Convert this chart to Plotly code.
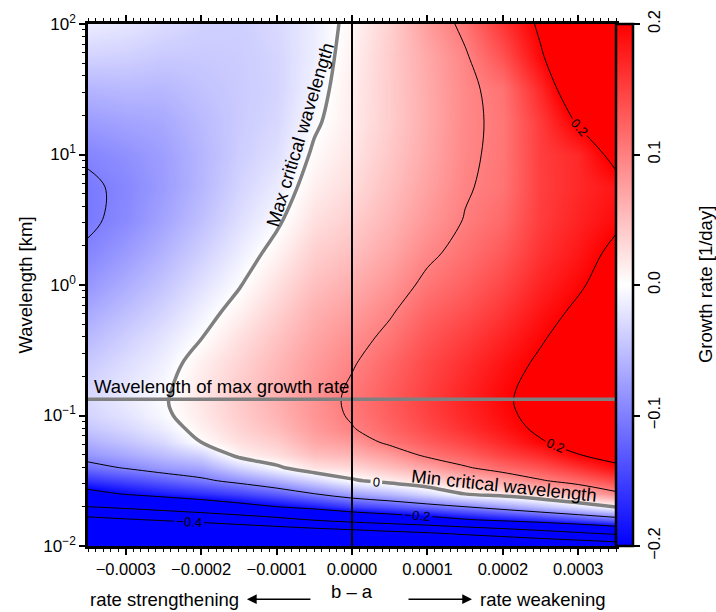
import plotly.graph_objects as go

# ---------------- data ----------------
b_minus_a = [-0.00035, -0.0003, -0.00025, -0.0002, -0.00015, -0.0001, -0.00005, 0.0,
             0.00005, 0.0001, 0.00015, 0.0002, 0.00025, 0.0003, 0.00035]

log10_wavelength_km = [-2.0, -1.9, -1.8, -1.7, -1.6, -1.5, -1.4, -1.3, -1.2, -1.1, -1.0, -0.9,
                       -0.8, -0.6, -0.4, -0.2, 0.0, 0.25, 0.5, 0.75, 1.0, 1.25, 1.5, 1.75, 2.0]

# growth rate [1/day]; one row per wavelength, one column per b - a value
growth_rate = [
    [-0.73, -0.71, -0.69, -0.67, -0.652, -0.633, -0.613, -0.594, -0.574, -0.555, -0.535, -0.515, -0.496, -0.477, -0.457],
    [-0.568, -0.55, -0.53, -0.513, -0.495, -0.477, -0.459, -0.443, -0.422, -0.404, -0.38, -0.356, -0.331, -0.306, -0.281],
    [-0.43, -0.41, -0.392, -0.372, -0.349, -0.324, -0.296, -0.271, -0.251, -0.23, -0.206, -0.188, -0.17, -0.149, -0.124],
    [-0.301, -0.284, -0.264, -0.243, -0.222, -0.201, -0.182, -0.155, -0.138, -0.12, -0.101, -0.078, -0.053, -0.027, 0.001],
    [-0.219, -0.196, -0.18, -0.166, -0.149, -0.128, -0.1005, -0.073, -0.055, -0.03, 0.001, 0.016, 0.034, 0.058, 0.091],
    [-0.163, -0.146, -0.128, -0.109, -0.088, -0.064, -0.036, -0.005, 0.012, 0.027, 0.048, 0.07, 0.096, 0.117, 0.142],
    [-0.1145, -0.097, -0.08, -0.07, -0.036, -0.006, 0.022, 0.03, 0.05, 0.069, 0.096, 0.117, 0.135, 0.16, 0.19],
    [-0.082, -0.068, -0.052, -0.035, 0.01, 0.025, 0.05, 0.058, 0.078, 0.108, 0.125, 0.148, 0.168, 0.199, 0.218],
    [-0.062, -0.047, -0.03, 0.001, 0.025, 0.04, 0.068, 0.08, 0.109, 0.128, 0.147, 0.17, 0.197, 0.217, 0.236],
    [-0.045, -0.032, -0.015, 0.011, 0.034, 0.052, 0.078, 0.098, 0.12, 0.141, 0.162, 0.184, 0.208, 0.228, 0.248],
    [-0.034, -0.022, -0.006, 0.017, 0.039, 0.059, 0.083, 0.104, 0.126, 0.148, 0.169, 0.191, 0.213, 0.234, 0.254],
    [-0.03, -0.017, -0.003, 0.019, 0.041, 0.062, 0.084, 0.1065, 0.128, 0.15, 0.172, 0.194, 0.215, 0.236, 0.257],
    [-0.032, -0.019, -0.005, 0.018, 0.04, 0.061, 0.083, 0.105, 0.127, 0.149, 0.171, 0.193, 0.213, 0.235, 0.256],
    [-0.042, -0.027, -0.012, 0.012, 0.034, 0.056, 0.078, 0.097, 0.12, 0.143, 0.163, 0.185, 0.206, 0.228, 0.25],
    [-0.055, -0.038, -0.022, -0.001, 0.024, 0.047, 0.07, 0.087, 0.108, 0.133, 0.151, 0.172, 0.196, 0.218, 0.24],
    [-0.068, -0.051, -0.034, -0.012, 0.01, 0.036, 0.061, 0.076, 0.096, 0.121, 0.137, 0.158, 0.185, 0.207, 0.229],
    [-0.082, -0.064, -0.046, -0.024, -0.002, 0.024, 0.05, 0.064, 0.083, 0.108, 0.124, 0.145, 0.173, 0.195, 0.22],
    [-0.096, -0.079, -0.06, -0.038, -0.015, 0.009, 0.037, 0.05, 0.069, 0.093, 0.111, 0.13, 0.161, 0.182, 0.21],
    [-0.105, -0.092, -0.072, -0.05, -0.026, -0.005, 0.024, 0.038, 0.058, 0.081, 0.1015, 0.118, 0.153, 0.173, 0.192],
    [-0.105, -0.094, -0.078, -0.057, -0.034, -0.016, 0.013, 0.028, 0.05, 0.073, 0.097, 0.1095, 0.151, 0.168, 0.184],
    [-0.096, -0.087, -0.076, -0.058, -0.039, -0.025, 0.004, 0.021, 0.044, 0.068, 0.094, 0.108, 0.152, 0.168, 0.215],
    [-0.078, -0.072, -0.068, -0.054, -0.041, -0.031, -0.004, 0.016, 0.04, 0.065, 0.093, 0.107, 0.155, 0.205, 0.23],
    [-0.058, -0.055, -0.056, -0.048, -0.041, -0.034, -0.01, 0.015, 0.04, 0.066, 0.093, 0.1105, 0.17, 0.238, 0.28],
    [-0.035, -0.037, -0.042, -0.042, -0.04, -0.033, -0.014, 0.012, 0.04, 0.068, 0.096, 0.136, 0.195, 0.248, 0.29],
    [-0.015, -0.02, -0.028, -0.036, -0.038, -0.03, -0.015, 0.008, 0.037, 0.076, 0.109, 0.158, 0.208, 0.26, 0.31],
]

wavelength_of_max_growth_km = 0.133
x_range = [-0.00035, 0.00035]
wavelength_range_km = [0.01, 100]

x_tick_values = [-0.0003, -0.0002, -0.0001, 0.0, 0.0001, 0.0002, 0.0003]
y_tick_exponents = [-2, -1, 0, 1, 2]
colorbar_ticks = [-0.2, -0.1, 0.0, 0.1, 0.2]

# ---------------------------------------------------------------------------
wavelength_km = [10 ** e for e in log10_wavelength_km]
y_tick_values = [10 ** e for e in y_tick_exponents]
y_tick_text = ["10<sup>%s</sup>" % (("\u2212%d" % -e) if e < 0 else "%d" % e) for e in y_tick_exponents]
y_minor_values = [k * 10 ** e for e in y_tick_exponents[:-1] for k in range(2, 10)]

FONT = "Liberation Sans, Arial, Helvetica, sans-serif"
GRAY = "rgb(128,128,128)"
TICK_SIZE = 16.5
TEXT_SIZE = 18.5
bwr = [[0.0, "rgb(0,0,255)"], [0.5, "rgb(255,255,255)"], [1.0, "rgb(255,0,0)"]]

fig = go.Figure()

# colour field
fig.add_trace(go.Heatmap(
    x=b_minus_a, y=wavelength_km, z=growth_rate,
    colorscale=bwr, zmin=-0.2, zmax=0.2, zsmooth="best", hoverinfo="skip",
    colorbar=dict(
        x=1.0, xanchor="left", xpad=0, y=0.5, yanchor="middle", len=1, ypad=0,
        thickness=17, outlinewidth=2.5, outlinecolor="black",
        ticks="outside", ticklen=6, tickwidth=1.5, tickcolor="black",
        tickvals=colorbar_ticks, tickformat=".1f", tickangle=-90,
        tickfont=dict(family=FONT, size=TICK_SIZE, color="black"),
    ),
))

label_font = dict(family=FONT, size=13, color="black")

# unlabelled contours (-0.3, -0.1, 0.1)
fig.add_trace(go.Contour(
    x=b_minus_a, y=wavelength_km, z=growth_rate, autocontour=False,
    contours=dict(coloring="none", start=-0.3, end=0.1, size=0.2, showlabels=False),
    line=dict(color="black", width=1), showscale=False, hoverinfo="skip",
))
# labelled contours (-0.4, -0.2)
fig.add_trace(go.Contour(
    x=b_minus_a, y=wavelength_km, z=growth_rate, autocontour=False,
    contours=dict(coloring="none", start=-0.4, end=-0.2, size=0.2, showlabels=True,
                  labelformat=".1f", labelfont=label_font),
    line=dict(color="black", width=1), showscale=False, hoverinfo="skip",
))
# labelled contour 0.2
fig.add_trace(go.Contour(
    x=b_minus_a, y=wavelength_km, z=growth_rate, autocontour=False,
    contours=dict(coloring="none", start=0.2, end=0.2, size=1, showlabels=True,
                  labelformat=".1f", labelfont=label_font),
    line=dict(color="black", width=1), showscale=False, hoverinfo="skip",
))

# wavelength of max growth rate
fig.add_trace(go.Scatter(
    x=x_range, y=[wavelength_of_max_growth_km] * 2, mode="lines",
    line=dict(color=GRAY, width=3.5), hoverinfo="skip",
))

# zero growth contour (critical wavelengths)
fig.add_trace(go.Contour(
    x=b_minus_a, y=wavelength_km, z=growth_rate, autocontour=False,
    contours=dict(coloring="none", start=0.0, end=0.0, size=1, showlabels=True,
                  labelformat=".0f", labelfont=label_font),
    line=dict(color=GRAY, width=3.5), showscale=False, hoverinfo="skip",
))

# b - a = 0
fig.add_trace(go.Scatter(
    x=[0.0, 0.0], y=wavelength_range_km, mode="lines",
    line=dict(color="black", width=2), hoverinfo="skip",
))

fig.update_layout(
    width=716, height=612,
    margin=dict(l=88, r=100, t=16, b=66),
    paper_bgcolor="white", plot_bgcolor="white",
    font=dict(family=FONT, size=TEXT_SIZE, color="black"),
    showlegend=False,
)

fig.update_xaxes(
    range=x_range, tickvals=x_tick_values, tickformat=".4f",
    ticks="outside", ticklen=6, tickwidth=1.5, tickcolor="black",
    showline=True, linewidth=2.5, linecolor="black", mirror="allticks",
    showgrid=False, zeroline=False,
    tickfont=dict(family=FONT, size=TICK_SIZE, color="black"),
    minor=dict(dtick=0.00001, tick0=0, ticks="outside", ticklen=3.5, tickwidth=1.2,
               tickcolor="black", showgrid=False),
)
fig.update_yaxes(
    type="log", range=[-2, 2], tickmode="array", tickvals=y_tick_values, ticktext=y_tick_text,
    ticks="outside", ticklen=6, tickwidth=1.5, tickcolor="black",
    showline=True, linewidth=2.5, linecolor="black", mirror=True,
    showgrid=False, zeroline=False,
    tickfont=dict(family=FONT, size=TICK_SIZE + 0.5, color="black"),
    title=dict(text="Wavelength [km]", font=dict(family=FONT, size=TEXT_SIZE, color="black"), standoff=6),
    minor=dict(tickmode="array", tickvals=y_minor_values, ticks="outside", ticklen=3.5,
               tickwidth=1.2, tickcolor="black", showgrid=False),
)

ann_font = dict(family=FONT, size=TEXT_SIZE, color="black")
annotations = [
    dict(text="Growth rate [1/day]", x=1.1686, y=0.5, xref="paper", yref="paper", showarrow=False,
         xanchor="center", yanchor="middle", textangle=-90, font=ann_font),
    dict(text="b \u2013 a", x=0.5, y=-0.087, xref="paper", yref="paper", showarrow=False,
         xanchor="center", yanchor="middle", font=ann_font),
    dict(text="rate strengthening", x=0.0, y=-0.102, xref="paper", yref="paper", showarrow=False,
         xanchor="left", yanchor="middle", font=ann_font),
    dict(text="", x=0.301, y=-0.102, xref="paper", yref="paper", showarrow=True,
         ax=65, ay=0, arrowhead=2, arrowsize=1.3, arrowwidth=1.5, arrowcolor="black", standoff=0),
    dict(text="rate weakening", x=0.7386, y=-0.102, xref="paper", yref="paper", showarrow=False,
         xanchor="left", yanchor="middle", font=ann_font),
    dict(text="", x=0.7273, y=-0.102, xref="paper", yref="paper", showarrow=True,
         ax=-65, ay=0, arrowhead=2, arrowsize=1.3, arrowwidth=1.5, arrowcolor="black", standoff=0),
    dict(text="Wavelength of max growth rate", x=0.0076, y=0.305, xref="paper", yref="paper",
         showarrow=False, xanchor="left", yanchor="middle", font=ann_font),
    dict(text="Max critical wavelength", x=0.4015, y=0.7887, xref="paper", yref="paper",
         showarrow=False, xanchor="center", yanchor="middle", textangle=-73, font=ann_font),
    dict(text="Min critical wavelength", x=0.787, y=0.1151, xref="paper", yref="paper",
         showarrow=False, xanchor="center", yanchor="middle", textangle=6, font=ann_font),
]
fig.update_layout(annotations=annotations)

fig.write_html("out.html")
